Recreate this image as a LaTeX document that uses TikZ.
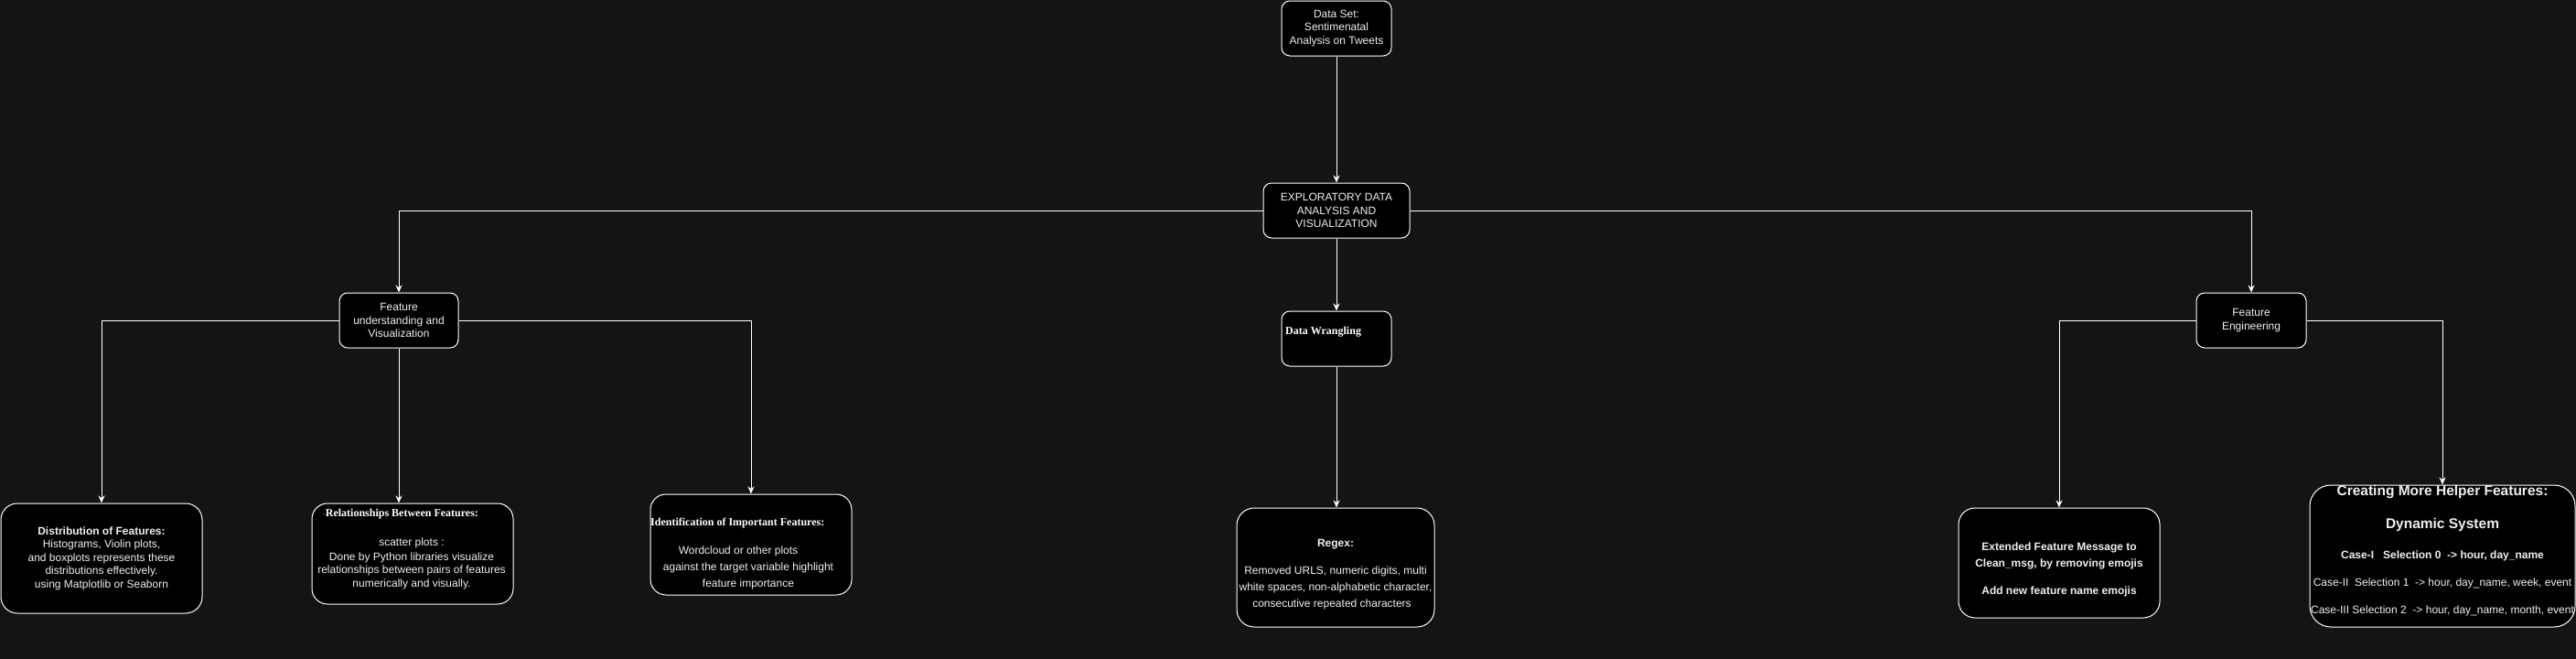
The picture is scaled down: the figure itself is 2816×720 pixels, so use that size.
\documentclass[tikz,border=0pt]{standalone}
\usepackage{fontspec}
\setmainfont{Liberation Sans}
\newfontfamily\serifb{Liberation Serif}
\usetikzlibrary{arrows.meta}
\definecolor{bg}{RGB}{20,20,20}
\definecolor{txt}{RGB}{240,240,240}
\begin{document}
\begin{tikzpicture}[x=1pt,y=-1pt,
  box/.style={draw=white, fill=black, line width=1pt, rounded corners=#1, inner sep=0pt,
    text=txt, align=center, font=\fontsize{12}{14.5}\selectfont},
  box/.default=9pt,
  lbl/.style={inner sep=0pt, text=txt, align=center, font=\fontsize{12}{14.5}\selectfont},
  ttl/.style={inner sep=0pt, text=white, anchor=west, font=\serifb\bfseries\fontsize{12}{14}\selectfont},
  wire/.style={draw=white, line width=1pt, -{Stealth[length=8pt,width=7pt]}}]
\fill[bg] (0,0) rectangle (2816,720);
\useasboundingbox (0,0) rectangle (2816,720);

% top level
\node[box, minimum width=120pt, minimum height=60pt] (ds) at (1461,31) {Data Set:\\Sentimenatal\\Analysis on Tweets};
\node[box, minimum width=160pt, minimum height=60pt] (eda) at (1461,230) {EXPLORATORY DATA\\ANALYSIS AND\\VISUALIZATION};
\node[box, minimum width=130pt, minimum height=60pt] (fu) at (436,350) {Feature\\understanding and\\Visualization};
\node[box, minimum width=120pt, minimum height=60pt] (dw) at (1461,370) {};
\node[ttl] (dwt) at (1405,363) {Data Wrangling};
\node[box, minimum width=120pt, minimum height=60pt] (fe) at (2461,350) {Feature\\Engineering};

% leaves
\node[box=18pt, minimum width=220pt, minimum height=120pt] (dist) at (111,610)
  {\textbf{Distribution of Features:}\\Histograms, Violin plots,\\and boxplots represents these\\distributions effectively.\\using Matplotlib or Seaborn};

\node[box=17pt, minimum width=220pt, minimum height=110pt] (rel) at (451,605) {};
\node[ttl] (relt) at (353,562) {{\mdseries\fontsize{8}{8}\selectfont·}Relationships Between Features:};
\node[lbl] (relb) at (450,615.5) {scatter plots :\\[1.5pt]Done by Python libraries visualize\\relationships between pairs of features\\numerically and visually.};

\node[box=17pt, minimum width=220pt, minimum height=110pt] (ident) at (821,595) {};
\node[ttl] (identt) at (711,572) {Identification of Important Features:};
\node[lbl, font=\fontsize{12}{18}\selectfont] (identb) at (818,620) {Wordcloud or other plots\hspace*{22pt}\\against the target variable highlight\\feature importance};

\node[box=19pt, minimum width=216pt, minimum height=130pt] (regex) at (1460,620) {};
\node[lbl, font=\fontsize{12}{18}\selectfont] (regext) at (1460,628) {\textbf{Regex:}\\[12pt]Removed URLS, numeric digits, multi\\white spaces, non-alphabetic character,\\consecutive repeated characters\hspace*{8pt}};

\node[box=18pt, minimum width=220pt, minimum height=120pt] (ext) at (2251,615) {};
\node[lbl, font=\fontsize{12}{18}\selectfont\bfseries] (extt) at (2251,622) {Extended Feature Message to\\Clean\_msg, by removing emojis\\[12pt]Add new feature name emojis};

\node[box=23pt, minimum width=290pt, minimum height=155pt] (cre) at (2670,607.5) {};
\node[lbl, font=\fontsize{15.5}{36}\selectfont\bfseries] (cret) at (2670,555) {Creating More Helper Features:\\Dynamic System};
\node[lbl, font=\fontsize{12}{30}\selectfont] (creb) at (2670,637) {\textbf{Case-I\ \ \ Selection 0\ \ -> hour, day\_name}\\Case-II\ \ Selection 1\ \ -> hour, day\_name, week, event\\Case-III Selection 2\ \ -> hour, day\_name, month, event};

% connectors
\draw[wire] (ds.south) -- (eda.north);
\draw[wire] (eda.west) -| (fu.north);
\draw[wire] (eda.east) -| (fe.north);
\draw[wire] (eda.south) -- (dw.north);
\draw[wire] (fu.west) -| (dist.north);
\draw[wire] (fu.south) -- (fu.south |- rel.north);
\draw[wire] (fu.east) -| (ident.north);
\draw[wire] (dw.south) -- (dw.south |- regex.north);
\draw[wire] (fe.west) -| (ext.north);
\draw[wire] (fe.east) -| (cre.north);
\end{tikzpicture}
\end{document}
